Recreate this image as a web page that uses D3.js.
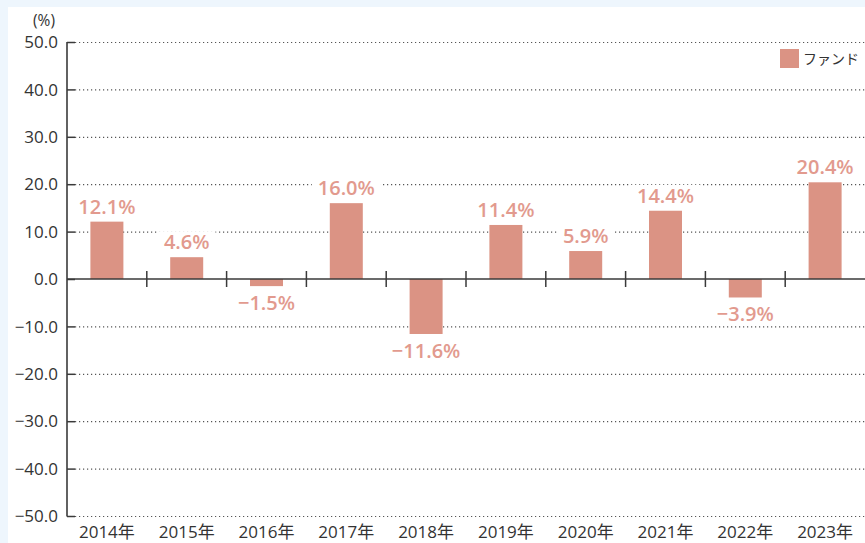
<!DOCTYPE html>
<html><head><meta charset="utf-8">
<script src="https://cdn.jsdelivr.net/npm/d3@7"></script>
<style>
html,body{margin:0;padding:0;background:#eef6fd;}
svg{display:block;}
text{font-family:"Open Sans","Noto Sans CJK JP",sans-serif;}
</style></head>
<body>
<svg id="chart" width="865" height="543"></svg>
<script>
const categories = ["2014年","2015年","2016年","2017年","2018年","2019年","2020年","2021年","2022年","2023年"];
const fundValues = [12.1, 4.6, -1.5, 16.0, -11.6, 11.4, 5.9, 14.4, -3.9, 20.4];
const yTicks = [50, 40, 30, 20, 10, 0, -10, -20, -30, -40, -50];
const seriesName = "ファンド";
const unitLabel = "(%)";

(function(){
const W = 865, H = 543;
const svg = d3.select("#chart");
svg.append("rect").attr("x",8).attr("y",7).attr("width",W-8).attr("height",H-7).attr("fill","#ffffff");

const mLeft = 67, mRight = 865, mTop = 42, mBottom = 516;
const x = d3.scaleBand().domain(categories).range([mLeft, mRight]).paddingInner(0).paddingOuter(0);
const y = d3.scaleLinear().domain([-50, 50]).range([mBottom, mTop]);

const axisColor = "#3a3a3a";
const barColor = "#db9384";
const labelColor = "#e29a8e";

// gridlines
svg.append("g").selectAll("line").data(yTicks.filter(d => d !== 0)).join("line")
  .attr("x1", mLeft + 8).attr("x2", mRight)
  .attr("y1", d => y(d) + 0.5).attr("y2", d => y(d) + 0.5)
  .attr("stroke", "#555").attr("stroke-width", 1.2).attr("stroke-dasharray", "1.2,2.8");

// y axis
const yAxis = d3.axisRight(y).tickValues(yTicks).tickSize(8).tickFormat("");
const gy = svg.append("g").attr("transform", `translate(${mLeft},0)`).call(yAxis);
gy.select(".domain").remove();
gy.selectAll(".tick line").attr("stroke", axisColor).attr("stroke-width", 1.5);
svg.append("line").attr("x1", mLeft).attr("x2", mLeft).attr("y1", mTop).attr("y2", mBottom + 0.5)
  .attr("stroke", axisColor).attr("stroke-width", 1.6);

// y tick labels
svg.append("g").selectAll("text").data(yTicks).join("text")
  .attr("x", 58).attr("y", d => y(d)).attr("dy", "0.36em")
  .attr("text-anchor", "end").attr("font-size", 17).attr("fill", "#333")
  .text(d => d3.format(".1f")(d));

svg.append("text").attr("x", 44).attr("y", 26).attr("text-anchor", "middle")
  .attr("font-size", 15.5).attr("fill", "#333").text(unitLabel);

// bars
svg.append("g").selectAll("rect").data(fundValues).join("rect")
  .attr("x", (d,i) => x(categories[i]) + x.bandwidth()/2 - 16.5)
  .attr("width", 33)
  .attr("y", d => y(Math.max(0, d)))
  .attr("height", d => Math.abs(y(d) - y(0)))
  .attr("fill", barColor);

// zero line and separators
svg.append("line").attr("x1", mLeft).attr("x2", mRight).attr("y1", y(0)).attr("y2", y(0))
  .attr("stroke", axisColor).attr("stroke-width", 1.5);
svg.append("g").selectAll("line").data(categories.slice(1)).join("line")
  .attr("x1", d => x(d)).attr("x2", d => x(d))
  .attr("y1", y(0) - 8).attr("y2", y(0) + 8)
  .attr("stroke", axisColor).attr("stroke-width", 1.5);

// value labels with white backing
const lg = svg.append("g");
const bg = lg.append("g");
const labels = lg.append("g").selectAll("text").data(fundValues).join("text")
  .attr("x", (d,i) => x(categories[i]) + x.bandwidth()/2)
  .attr("y", d => d >= 0 ? y(d) - 8 : y(d) + 24)
  .attr("text-anchor", "middle").attr("font-size", 20).attr("font-weight", 600)
  .attr("fill", labelColor)
  .text(d => (d < 0 ? "−" + d3.format(".1f")(-d) : d3.format(".1f")(d)) + "%");
labels.each(function(){
  const b = this.getBBox();
  bg.append("rect").attr("x", b.x - 6).attr("y", b.y + 3).attr("width", b.width + 12).attr("height", b.height - 6)
    .attr("fill", "#ffffff");
});

// x labels
svg.append("g").selectAll("text").data(categories).join("text")
  .attr("x", d => x(d) + x.bandwidth()/2).attr("y", 532).attr("dy", "0.36em")
  .attr("text-anchor", "middle").attr("font-size", 17).attr("fill", "#333")
  .text(d => d);

// legend
svg.append("rect").attr("x", 780).attr("y", 49).attr("width", 19).attr("height", 19).attr("fill", barColor);
svg.append("text").attr("x", 803).attr("y", 58.5).attr("dy", "0.36em")
  .attr("font-size", 14).attr("fill", "#333").style("font-family", "'Noto Sans CJK JP'").text(seriesName);
})();
</script>
</body></html>
